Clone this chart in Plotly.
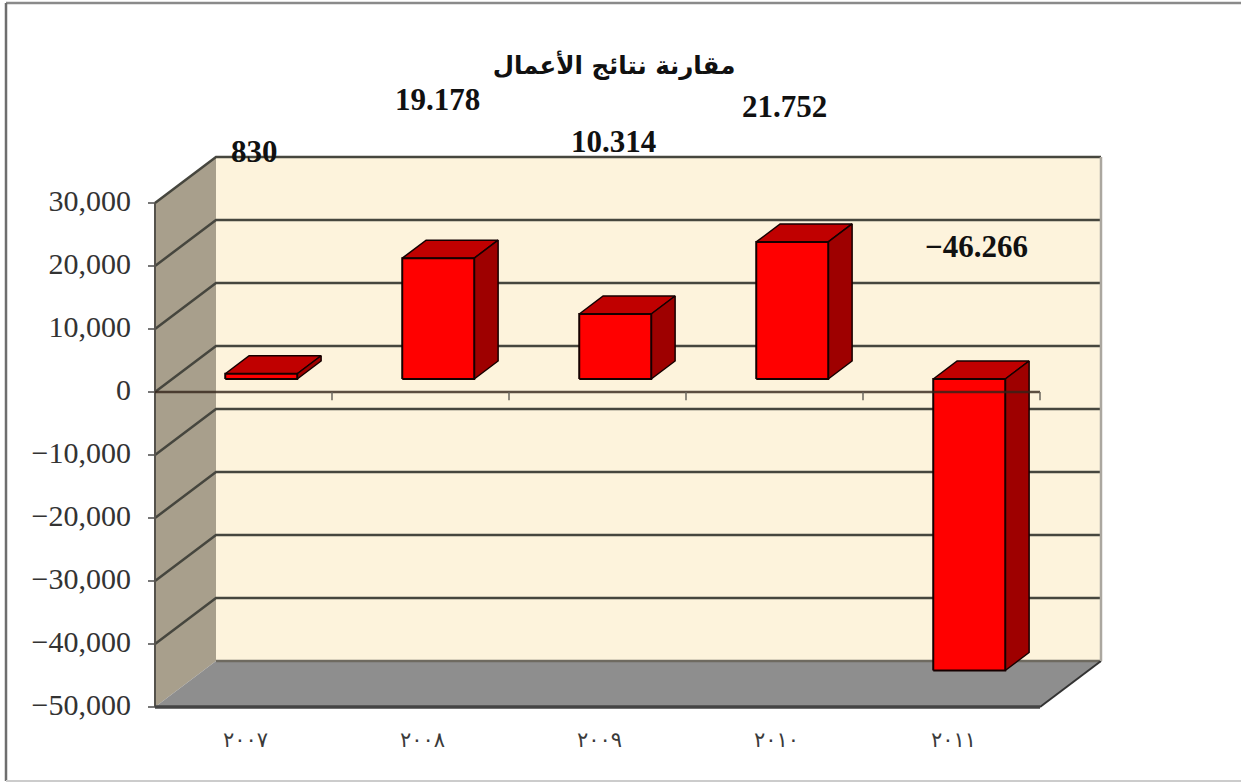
import plotly.graph_objects as go

# ---------- data ----------
categories = ["٢٠٠٧", "٢٠٠٨", "٢٠٠٩", "٢٠١٠", "٢٠١١"]
values = [830, 19178, 10314, 21752, -46266]
value_labels = ["830", "19.178", "10.314", "21.752", "−46.266"]
y_ticks = [30000, 20000, 10000, 0, -10000, -20000, -30000, -40000, -50000]
y_tick_labels = ["30,000", "20,000", "10,000", "0", "−10,000", "−20,000", "−30,000", "−40,000", "−50,000"]
title_text = "مقارنة نتائج الأعمال"

# ---------- layout of the fake 3-D box (pixels of the page) ----------
W, H = 1241, 783
L, R = 155, 1101
BOTTOM = 707
CAT_PX = 177.0
PX_PER_UNIT = 6.3 / 1000
DEPTH_X_PX, DEPTH_Y_PX = 61, 46
PAD = 9  # spare room round the box so its edge lines are not clipped
Y_MIN = -50000
Y_MAX_WALL = 30000
Y_TOP = Y_MAX_WALL + DEPTH_Y_PX / PX_PER_UNIT
TOP = BOTTOM - (Y_TOP - Y_MIN) * PX_PER_UNIT
X0 = 0.5
X_FRONT_END = X0 + len(categories)
X_END = X0 + (R - L) / CAT_PX
DX = DEPTH_X_PX / CAT_PX
DY = DEPTH_Y_PX / PX_PER_UNIT
BAR_HALF = 36 / CAT_PX
BAR_D0, BAR_D1 = 13 / 46, 31 / 46
# plot-area box in pixels
PL, PR, PT, PB = L - PAD, R + PAD, TOP - PAD, BOTTOM + PAD


def px_x(p):
    return (p - PL) / (PR - PL)


def px_y(p):
    return (PB - p) / (PB - PT)


def P(x, y, d=0.0):
    return x + d * DX, y + d * DY


def poly(points, fill, line="rgba(0,0,0,0)", width=0):
    xs = [p[0] for p in points] + [points[0][0]]
    ys = [p[1] for p in points] + [points[0][1]]
    return go.Scatter(x=xs, y=ys, mode="lines", fill="toself", fillcolor=fill,
                      line=dict(color=line, width=width), hoverinfo="skip", showlegend=False)


def seg(points, color, width):
    return go.Scatter(x=[p[0] for p in points], y=[p[1] for p in points], mode="lines",
                      line=dict(color=color, width=width), hoverinfo="skip", showlegend=False)


fig = go.Figure()
# walls and floor
fig.add_trace(poly([P(X0, Y_MIN, 1), P(X_FRONT_END, Y_MIN, 1), P(X_FRONT_END, Y_MAX_WALL, 1), P(X0, Y_MAX_WALL, 1)], "#FDF3DC"))
fig.add_trace(poly([P(X0, Y_MIN), P(X0, Y_MIN, 1), P(X0, Y_MAX_WALL, 1), P(X0, Y_MAX_WALL)], "#A89F8C"))
fig.add_trace(poly([P(X0, Y_MIN), P(X_FRONT_END, Y_MIN), P(X_FRONT_END, Y_MIN, 1), P(X0, Y_MIN, 1)], "#8E8E8E"))
# gridlines and value-axis tick marks
for t in y_ticks:
    fig.add_trace(seg([(X0 - 7 / CAT_PX, t), (X0, t)], "#777777", 2))
    if t == Y_MIN:
        fig.add_trace(seg([P(X0, t, 1), P(X_FRONT_END, t, 1)], "#6E6A60", 2.5))
        fig.add_trace(seg([P(X_FRONT_END, t), P(X_FRONT_END, t, 1)], "#333333", 2))
        continue
    fig.add_trace(seg([P(X0, t), P(X0, t, 1), P(X_FRONT_END, t, 1)], "#46463E", 2.5))
# wall edges
fig.add_trace(seg([P(X_FRONT_END, Y_MIN, 1), P(X_FRONT_END, Y_MAX_WALL, 1)], "#ABA79F", 2.5))
fig.add_trace(seg([P(X0, Y_MIN), P(X0, Y_MAX_WALL)], "#55524C", 2))
fig.add_trace(seg([P(X0, Y_MIN), P(X_FRONT_END, Y_MIN)], "#444444", 3.5))

# bars
for i, v in enumerate(values):
    c = i + 1 + 0.5 / CAT_PX
    lo, hi = min(0, v), max(0, v)
    xl, xr = c - BAR_HALF, c + BAR_HALF
    fig.add_trace(poly([P(xl, hi, BAR_D0), P(xr, hi, BAR_D0), P(xr, hi, BAR_D1), P(xl, hi, BAR_D1)], "#C00000", "#150000", 1.5))
    fig.add_trace(poly([P(xr, lo, BAR_D0), P(xr, lo, BAR_D1), P(xr, hi, BAR_D1), P(xr, hi, BAR_D0)], "#9E0000", "#150000", 1.5))
    fig.add_trace(poly([P(xl, lo, BAR_D0), P(xr, lo, BAR_D0), P(xr, hi, BAR_D0), P(xl, hi, BAR_D0)], "#FF0000", "#150000", 2))

# zero axis with tick marks, drawn over the bars
fig.add_trace(seg([P(X0, 0), P(X_FRONT_END, 0)], "rgba(50,35,25,0.8)", 2.5))
for k in range(1, len(categories) + 1):
    x = X0 + k
    fig.add_trace(seg([(x, 0), (x, -1300)], "#6A665E", 1.5))

# value labels, placed from each bar's top
label_shift = [(-6, 222), (0, 159), (-1, 173), (-7, 135), (8, 133)]
annotations = []
for i, (v, txt) in enumerate(zip(values, value_labels)):
    sx, sy = label_shift[i]
    annotations.append(dict(
        x=P(i + 1, max(0, v), BAR_D0)[0], y=P(i + 1, max(0, v), BAR_D0)[1], text=txt,
        xref="x", yref="y", xshift=sx, yshift=sy, showarrow=False, xanchor="center", yanchor="middle",
        font=dict(family="Liberation Serif", size=31, color="#111111", weight="bold")))

fig.update_layout(
    width=W, height=H, autosize=False,
    margin=dict(l=PL, r=W - PR, t=PT, b=H - PB, pad=0),
    paper_bgcolor="white", plot_bgcolor="white", showlegend=False,
    title=dict(text=title_text, x=614 / W, xanchor="center", y=1 - 65 / H, yanchor="middle",
               font=dict(family="DejaVu Sans", size=24.5, color="#111111", weight="bold")),
    annotations=annotations,
    xaxis=dict(range=[X0 - PAD / CAT_PX, X_END + PAD / CAT_PX], tickmode="array",
               tickvals=list(range(1, len(categories) + 1)),
               ticktext=categories, showgrid=False, zeroline=False, showline=False, ticks="",
               ticklabelstandoff=18 - PAD, ticklabelshift=2,
               tickfont=dict(family="DejaVu Sans", size=21, color="#3A3A3A"), fixedrange=True),
    yaxis=dict(range=[Y_MIN - PAD / PX_PER_UNIT, Y_TOP + PAD / PX_PER_UNIT], tickmode="array",
               tickvals=y_ticks, ticktext=y_tick_labels,
               showgrid=False, zeroline=False, showline=False, ticks="",
               tickfont=dict(family="Liberation Serif", size=30, color="#333333"),
               ticklabelstandoff=14, ticklabelshift=-3, fixedrange=True),
    shapes=[
        dict(type="line", xref="paper", yref="paper", x0=px_x(6), x1=px_x(W), y0=px_y(3), y1=px_y(3),
             line=dict(color="#8A8A8A", width=2.5)),
        dict(type="line", xref="paper", yref="paper", x0=px_x(6), x1=px_x(6), y0=px_y(781), y1=px_y(3),
             line=dict(color="#6E6E6E", width=2.5)),
        dict(type="line", xref="paper", yref="paper", x0=px_x(6), x1=px_x(W), y0=px_y(781), y1=px_y(781),
             line=dict(color="#CCCCCC", width=2)),
    ],
)

fig.write_html("out.html", post_script="document.body.style.margin='0';",
               config={"displayModeBar": False})
